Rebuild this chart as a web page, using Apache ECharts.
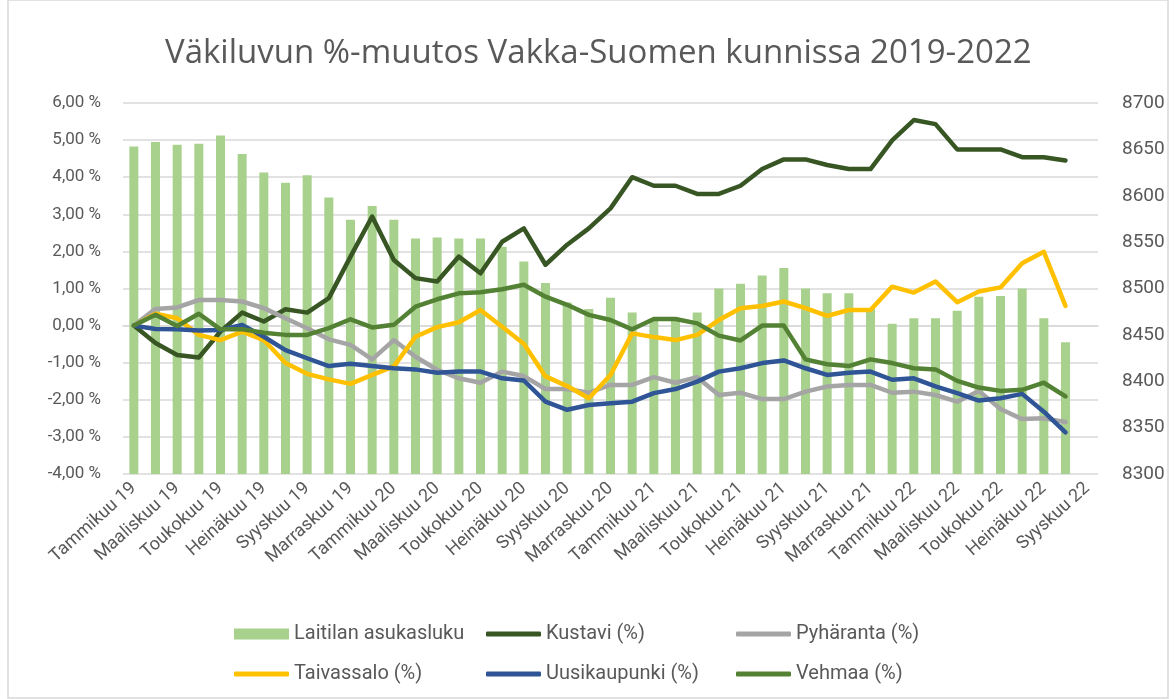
<!DOCTYPE html>
<html>
<head>
<meta charset="utf-8">
<script src="https://cdn.jsdelivr.net/npm/echarts/dist/echarts.min.js"></script>
<style>
  html, body { margin: 0; padding: 0; background: #fff; }
  #chart { width: 1175px; height: 699px; }
</style>
</head>
<body>
<div id="chart"></div>
<script>
// months Jan 2019 .. Sep 2022 (last month has no data)
const monthNames = ['Tammikuu', 'Helmikuu', 'Maaliskuu', 'Huhtikuu', 'Toukokuu', 'Kesäkuu',
  'Heinäkuu', 'Elokuu', 'Syyskuu', 'Lokakuu', 'Marraskuu', 'Joulukuu']
const years = ['19', '20', '21', '22']
const categories = []
years.forEach(y => monthNames.forEach(m => categories.push(m + ' ' + y)))
categories.length = 45

// Laitila population (right axis)
const laitila = [8653, 8658, 8655, 8656, 8665, 8645, 8625, 8614, 8622, 8598, 8574, 8589,
  8574, 8554, 8555, 8554, 8554, 8545, 8529, 8506, 8485, 8478, 8490, 8474,
  8466, 8466, 8474, 8500, 8505, 8514, 8522, 8500, 8495, 8495, 8478, 8462,
  8468, 8468, 8476, 8491, 8492, 8500, 8468, 8442, null]

// % change since Jan 2019 (left axis)
const kustavi = [0, -0.47, -0.79, -0.86, -0.16, 0.35, 0.11, 0.44, 0.35, 0.74, 1.86, 2.94,
  1.77, 1.28, 1.19, 1.86, 1.41, 2.26, 2.62, 1.64, 2.18, 2.62, 3.16, 4.0,
  3.77, 3.77, 3.55, 3.55, 3.77, 4.22, 4.48, 4.48, 4.33, 4.22, 4.22, 4.99,
  5.54, 5.43, 4.75, 4.75, 4.75, 4.54, 4.54, 4.45, null]
const pyharanta = [0, 0.45, 0.49, 0.69, 0.69, 0.65, 0.47, 0.2, -0.07, -0.37, -0.52, -0.91,
  -0.39, -0.84, -1.19, -1.42, -1.54, -1.24, -1.36, -1.71, -1.71, -1.81, -1.6, -1.6,
  -1.39, -1.54, -1.39, -1.87, -1.81, -1.98, -1.98, -1.78, -1.64, -1.6, -1.6, -1.81,
  -1.78, -1.87, -2.05, -1.76, -2.25, -2.52, -2.5, -2.6, null]
const taivassalo = [0, 0.32, 0.2, -0.25, -0.39, -0.16, -0.39, -1.01, -1.3, -1.45, -1.57, -1.33,
  -1.1, -0.3, -0.04, 0.09, 0.42, -0.03, -0.49, -1.37, -1.63, -1.96, -1.33, -0.21,
  -0.31, -0.39, -0.25, 0.15, 0.47, 0.53, 0.65, 0.47, 0.26, 0.42, 0.42, 1.05,
  0.89, 1.19, 0.63, 0.92, 1.03, 1.68, 1.99, 0.53, null]
const uusikaupunki = [0, -0.09, -0.1, -0.13, -0.12, 0.02, -0.3, -0.66, -0.88, -1.09, -1.03, -1.09,
  -1.15, -1.18, -1.27, -1.24, -1.24, -1.42, -1.48, -2.05, -2.27, -2.14, -2.09, -2.05,
  -1.82, -1.71, -1.51, -1.24, -1.15, -1.01, -0.94, -1.15, -1.33, -1.27, -1.24, -1.46,
  -1.42, -1.64, -1.82, -2.02, -1.96, -1.84, -2.32, -2.88, null]
const vehmaa = [0, 0.29, -0.01, 0.32, -0.1, -0.1, -0.19, -0.25, -0.25, -0.07, 0.17, -0.05,
  0.02, 0.51, 0.71, 0.87, 0.9, 0.98, 1.1, 0.78, 0.56, 0.29, 0.15, -0.1,
  0.18, 0.18, 0.06, -0.27, -0.4, 0, 0, -0.91, -1.04, -1.09, -0.91, -1.01,
  -1.15, -1.18, -1.49, -1.67, -1.76, -1.73, -1.54, -1.91, null]

const font = "Roboto, sans-serif"
const textColor = '#595959'
const gridColor = '#D9D9D9'

const lines = [
  { name: 'Kustavi (%)', data: kustavi, color: '#375623' },
  { name: 'Pyhäranta (%)', data: pyharanta, color: '#A5A5A5' },
  { name: 'Taivassalo (%)', data: taivassalo, color: '#FFC000' },
  { name: 'Uusikaupunki (%)', data: uusikaupunki, color: '#2F5597' },
  { name: 'Vehmaa (%)', data: vehmaa, color: '#548235' },
]

// legend slots: [name, left, top]
const legendSlots = [
  ['Laitilan asukasluku', 229, 619],
  ['Kustavi (%)', 481, 619],
  ['Pyhäranta (%)', 731, 619],
  ['Taivassalo (%)', 229, 659],
  ['Uusikaupunki (%)', 481, 659],
  ['Vehmaa (%)', 731, 659],
]

const pct = v => v.toFixed(2).replace('.', ',') + ' %'

const option = {
  animation: false,
  backgroundColor: '#fff',
  title: {
    text: 'Väkiluvun %-muutos Vakka-Suomen kunnissa 2019-2022',
    left: 160,
    top: 32,
    textStyle: { fontFamily: 'Open Sans, sans-serif', fontSize: 33, fontWeight: 'normal', color: textColor },
  },
  legend: legendSlots.map(([name, left, top]) => ({
    data: [name],
    left,
    top,
    itemWidth: 55,
    itemHeight: name === 'Laitilan asukasluku' ? 11 : 5,
    icon: name === 'Laitilan asukasluku' ? 'rect' : 'roundRect',
    textStyle: { fontFamily: font, fontSize: 20, color: textColor },
  })),
  grid: { left: 123, right: 77, top: 103, bottom: 225 },
  xAxis: {
    type: 'category',
    data: categories,
    axisTick: { show: false },
    axisLine: { lineStyle: { color: gridColor, width: 1.5 } },
    axisLabel: { interval: 1, rotate: 42, margin: 12, fontFamily: font, fontSize: 18, color: textColor },
  },
  yAxis: [
    {
      type: 'value',
      min: -4,
      max: 6,
      interval: 1,
      axisLabel: { formatter: pct, margin: 22, fontFamily: font, fontSize: 17, color: textColor },
      splitLine: { lineStyle: { color: gridColor, width: 1.5 } },
      axisLine: { show: false },
    },
    {
      type: 'value',
      min: 8300,
      max: 8700,
      interval: 50,
      axisLabel: { formatter: v => String(v), margin: 24, fontFamily: font, fontSize: 19, color: textColor },
      splitLine: { show: false },
      axisLine: { show: false },
    },
  ],
  series: [
    {
      name: 'Laitilan asukasluku',
      type: 'bar',
      yAxisIndex: 1,
      data: laitila,
      barWidth: 9,
      itemStyle: { color: '#A9D18E' },
    },
    ...lines.map(l => ({
      name: l.name,
      type: 'line',
      data: l.data,
      symbol: 'none',
      itemStyle: { color: l.color },
      lineStyle: { color: l.color, width: 4.5, cap: 'round', join: 'round' },
    })),
  ],
  graphic: [{
    type: 'rect',
    shape: { x: 8, y: 0, width: 1160, height: 698 },
    style: { fill: 'none', stroke: gridColor, lineWidth: 1.5 },
    silent: true,
  }],
}

echarts.init(document.getElementById('chart')).setOption(option)
</script>
</body>
</html>
